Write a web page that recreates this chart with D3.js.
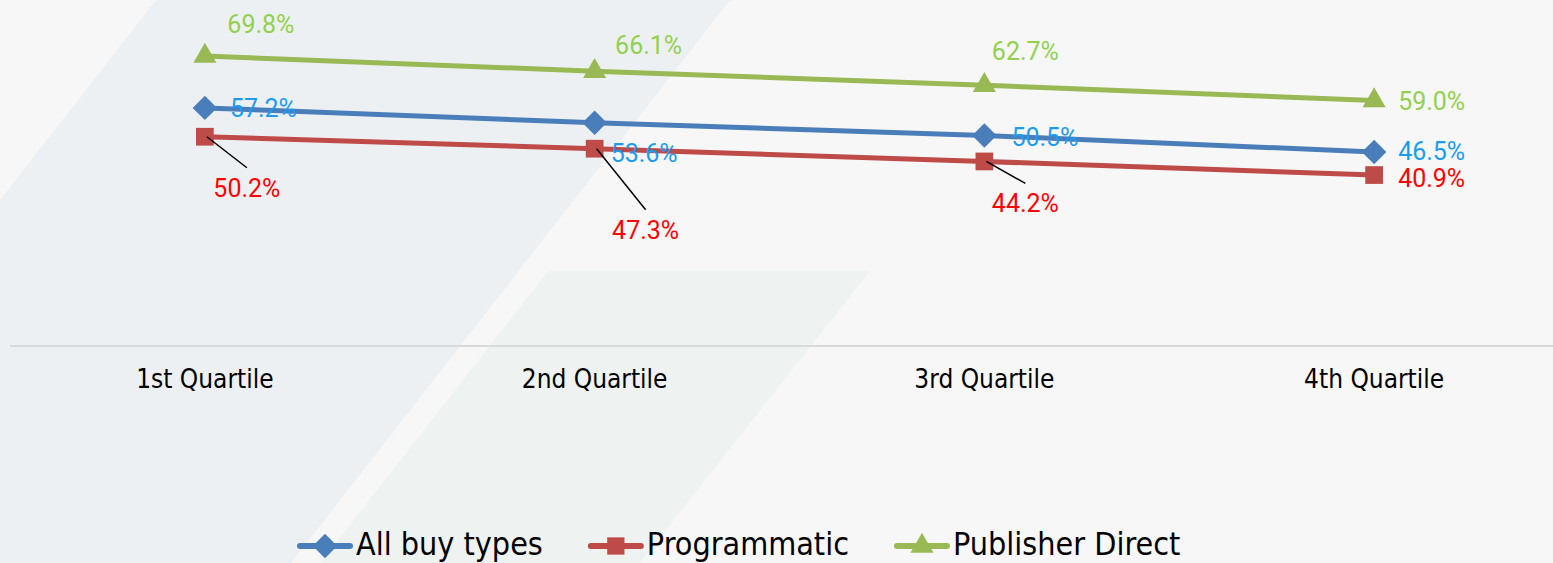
<!DOCTYPE html>
<html>
<head>
<meta charset="utf-8">
<script src="https://cdn.jsdelivr.net/npm/d3@7"></script>
<style>
  html, body { margin: 0; padding: 0; background: #f7f7f7; }
  svg { display: block; }
  .cond { font-family: "DejaVu Sans Condensed", "DejaVu Sans", sans-serif; font-stretch: condensed; }
  .val { font-family: Roboto, "Open Sans", sans-serif; font-size: 25px; }
</style>
</head>
<body>
<svg id="chart"></svg>
<script>
const categories = ["1st Quartile", "2nd Quartile", "3rd Quartile", "4th Quartile"];
const seriesNames = ["All buy types", "Programmatic", "Publisher Direct"];
const allBuyTypes = [57.2, 53.6, 50.5, 46.5];
const programmatic = [50.2, 47.3, 44.2, 40.9];
const publisherDirect = [69.8, 66.1, 62.7, 59.0];

// label nudges in px from the point (the original labels were hand placed)
const labelNudgeAll = [[25, 9, "start"], [16, 39, "start"], [27, 10, "start"], [24, 8, "start"]];
const labelNudgeProg = [[42, 60, "middle"], [51, 90, "middle"], [41, 51, "middle"], [24, 12, "start"]];
const labelNudgePub = [[56, -23, "middle"], [54, -17, "middle"], [41, -25, "middle"], [24, 10, "start"]];
const leaderOn = [true, true, true, false];

const width = 1553, height = 563;

const series = [
  { name: seriesNames[0], values: allBuyTypes, line: "#4a7ebb", text: "#1a9cf0", marker: "diamond", nudge: labelNudgeAll, leaders: false },
  { name: seriesNames[1], values: programmatic, line: "#be4b48", text: "#ff0000", marker: "square", nudge: labelNudgeProg, leaders: true },
  { name: seriesNames[2], values: publisherDirect, line: "#98b954", text: "#92d050", marker: "triangle", nudge: labelNudgePub, leaders: false },
];

const svg = d3.select("#chart").attr("width", width).attr("height", height);

// decorative background shapes
const bg = svg.append("g");
bg.append("rect").attr("width", width).attr("height", height).attr("fill", "#f7f7f7");
bg.append("polygon")
  .attr("points", "156,0 730,0 291,563 0,563 0,200")
  .attr("fill", "#edf0f3");
bg.append("polygon")
  .attr("points", "548,271 870,271 640,563 320,563")
  .attr("fill", "#eef3f1");

const x = d3.scaleBand().domain(categories).range([10, 1569]).padding(0);
const y = d3.scaleLinear().domain([0, 80]).range([343.5, 14]);
const cx = (c) => x(c) + x.bandwidth() / 2;

// category axis
const axis = svg.append("g").attr("transform", `translate(0,${y(0) + 2.5})`)
  .call(d3.axisBottom(x).tickSize(0).tickPadding(30));
axis.select(".domain").attr("stroke", "#d9d9d9").attr("stroke-width", 2)
  .attr("d", `M10,0H${width}`);
axis.selectAll(".tick text")
  .attr("class", "cond")
  .attr("font-size", 26)
  .attr("fill", "#000")
  .attr("dy", "0.45em");

const symbolFor = (m, size) => {
  if (m === "diamond") return d3.symbol(d3.symbolDiamond2, size)();
  if (m === "square") return d3.symbol(d3.symbolSquare2, size)();
  return d3.symbol(d3.symbolTriangle2, size)();
};

const line = d3.line().x((d, i) => cx(categories[i])).y((d) => y(d));

const plot = svg.append("g");
series.forEach((s) => {
  plot.append("path")
    .attr("d", line(s.values))
    .attr("fill", "none")
    .attr("stroke", s.line)
    .attr("stroke-width", 5);

  plot.selectAll(null)
    .data(s.values)
    .enter()
    .append("path")
    .attr("d", symbolFor(s.marker, s.marker === "square" ? 400 : 380))
    .attr("transform", (d, i) => `translate(${cx(categories[i])},${y(d)})`)
    .attr("fill", s.line);
});

// leader lines and value labels
const labels = svg.append("g");
series.forEach((s) => {
  s.values.forEach((v, i) => {
    const px = cx(categories[i]);
    const py = y(v);
    const [dx, dy, anchor] = s.nudge[i];
    if (s.leaders && leaderOn[i]) {
      labels.append("line")
        .attr("x1", px + 2).attr("y1", py)
        .attr("x2", px + dx).attr("y2", py + dy - 29)
        .attr("stroke", "#000")
        .attr("stroke-width", 1.5);
    }
    labels.append("text")
      .attr("class", "val")
      .attr("x", px + dx)
      .attr("y", py + dy)
      .attr("text-anchor", anchor)
      .attr("fill", s.text)
      .text(v.toFixed(1) + "%");
  });
});

// legend
const legend = svg.append("g").attr("transform", "translate(298,546)");
let lx = 0;
series.forEach((s) => {
  const item = legend.append("g").attr("transform", `translate(${lx},0)`);
  item.append("line")
    .attr("x1", 2).attr("x2", 52)
    .attr("stroke", s.line)
    .attr("stroke-width", 6)
    .attr("stroke-linecap", "round");
  item.append("path")
    .attr("d", symbolFor(s.marker, 380))
    .attr("transform", "translate(27,0)")
    .attr("fill", s.line);
  const t = item.append("text")
    .attr("class", "cond")
    .attr("x", 58)
    .attr("y", 9)
    .attr("font-size", 32)
    .attr("fill", "#000")
    .text(s.name);
  lx += 58 + t.node().getComputedTextLength() + 46;
});
</script>
</body>
</html>
